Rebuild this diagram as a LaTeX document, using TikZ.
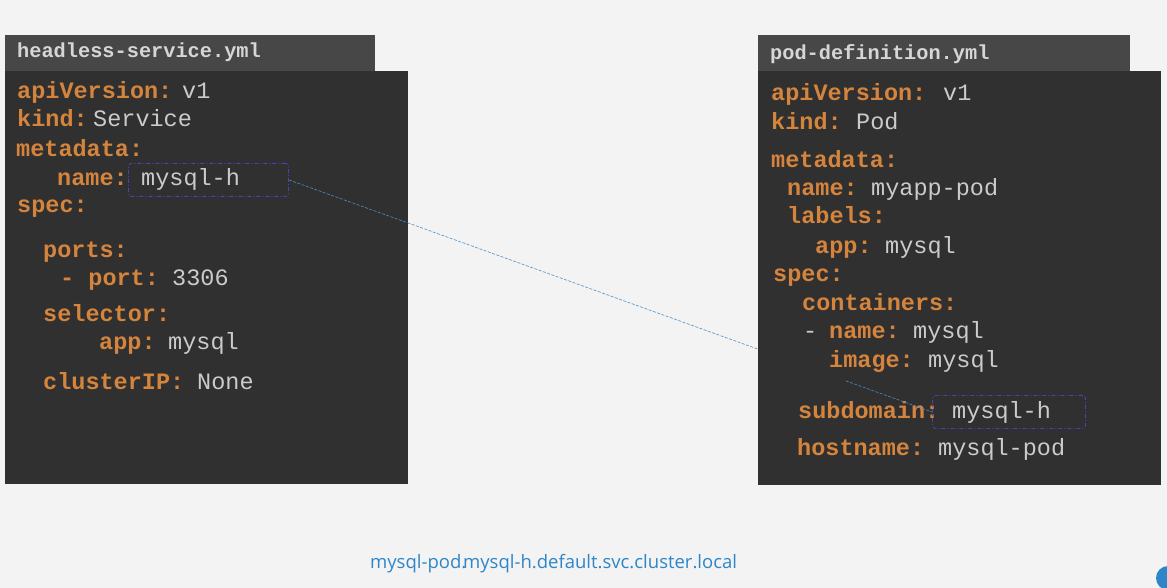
\documentclass[tikz,border=0pt]{standalone}
\usepackage{fontspec}
\usetikzlibrary{calc}
\newfontfamily\codefont{Liberation Mono}
\newfontfamily\uifont{Open Sans}
\definecolor{bgc}{HTML}{F3F3F3}
\definecolor{bodyc}{HTML}{303030}
\definecolor{headc}{HTML}{474747}
\definecolor{headtext}{HTML}{D6D6D6}
\definecolor{keyc}{HTML}{D4843C}
\definecolor{valc}{HTML}{CBCBCB}
\definecolor{hlc}{HTML}{4A44B0}
\definecolor{linkc}{HTML}{4A90C8}
\definecolor{urlc}{HTML}{2E86C8}
\pgfdeclarelayer{back}
\pgfdeclarelayer{mid}
\pgfsetlayers{back,mid,main}
\tikzset{
  key/.style={font=\codefont\bfseries\fontsize{23.5}{26}\selectfont, text=keyc, anchor=base west, inner sep=0pt},
  val/.style={font=\codefont\fontsize{23.5}{26}\selectfont, text=valc, anchor=base west, inner sep=0pt},
  headtxt/.style={font=\codefont\bfseries\fontsize{20.3}{22}\selectfont, text=headtext, anchor=base west, inner sep=0pt},
  hlbox/.style={draw=hlc, line width=0.9pt, rounded corners=3pt, dash pattern=on 4pt off 2pt on 1pt off 2pt, anchor=north west, inner sep=0pt},
  link/.style={draw=linkc, line width=0.6pt, dash pattern=on 3pt off 1.5pt},
  url/.style={font=\uifont\fontsize{18.5}{20}\selectfont, text=urlc, anchor=base west, inner sep=0pt}
}
\begin{document}
\begin{tikzpicture}[x=1pt,y=-1pt]
\useasboundingbox (0,0) rectangle (1167,588);
% left file
\node[headtxt] (lh) at (17,58) {headless-service.yml};
\node[key] (l1) at (17,99) {apiVersion:};
\node[val] (l1v) at (182,99) {v1};
\node[key] (l2) at (17,127) {kind:};
\node[val] (l2v) at (93,127) {Service};
\node[key] (l3) at (16,157) {metadata:};
\node[key] (l4) at (57,186) {name:};
\node[val] (l4v) at (141,186) {mysql-h};
\node[key] (l5) at (17,213) {spec:};
\node[key] (l6) at (43,257) {ports:};
\node[key] (l7) at (60,285) {- port:};
\node[val] (l7v) at (172,285) {3306};
\node[key] (l8) at (43,321) {selector:};
\node[key] (l9) at (99,349) {app:};
\node[val] (l9v) at (168,349) {mysql};
\node[key] (l10) at (43,389) {clusterIP:};
\node[val] (l10v) at (197,389) {None};
\node[hlbox, minimum width=160pt, minimum height=33pt] (h1) at (128,163) {};
% right file
\node[headtxt] (rh) at (770,60) {pod-definition.yml};
\node[key] (r1) at (771,101) {apiVersion:};
\node[val] (r1v) at (943,101) {v1};
\node[key] (r2) at (771,130) {kind:};
\node[val] (r2v) at (856,130) {Pod};
\node[key] (r3) at (771,168) {metadata:};
\node[key] (r4) at (787,196) {name:};
\node[val] (r4v) at (871,196) {myapp-pod};
\node[key] (r5) at (787,224) {labels:};
\node[key] (r6) at (815,253) {app:};
\node[val] (r6v) at (885,253) {mysql};
\node[key] (r7) at (773,281) {spec:};
\node[key] (r8) at (802,310) {containers:};
\node[val] (r9d) at (803,338) {-};
\node[key] (r9) at (829,338) {name:};
\node[val] (r9v) at (913,338) {mysql};
\node[key] (r10) at (829,367) {image:};
\node[val] (r10v) at (928,367) {mysql};
\node[key] (r11) at (798,418) {subdomain:};
\node[val] (r11v) at (952,418) {mysql-h};
\node[key] (r12) at (797,455) {hostname:};
\node[val] (r12v) at (938,455) {mysql-pod};
\node[hlbox, minimum width=153pt, minimum height=33pt] (h2) at (932,395) {};
% backgrounds and boxes
\begin{pgfonlayer}{back}
\fill[bgc] (0,0) rectangle (1167,588);
\fill[bodyc] (5,71) rectangle (408,484);
\fill[headc] (5,35) rectangle (375,71);
\draw[link] (h1.east) -- (h2.west);
\end{pgfonlayer}
\begin{pgfonlayer}{mid}
\fill[bodyc] (758,71) rectangle (1161,485);
\fill[headc] (758,35) rectangle (1130,71);
\end{pgfonlayer}
% visible part of the connector inside the pod file
\coordinate (lk) at ($(h1.east)!0.866!(h2.west)$);
\draw[link] (lk) -- (h2.west);
% url
\node[url] (u1) at (370,568) {mysql-pod.};
\node[url] (u2) at (463,568) {mysql-h.default.svc.cluster.local};
% corner blob
\fill[urlc] (1168,578) circle (12);
\end{tikzpicture}
\end{document}
